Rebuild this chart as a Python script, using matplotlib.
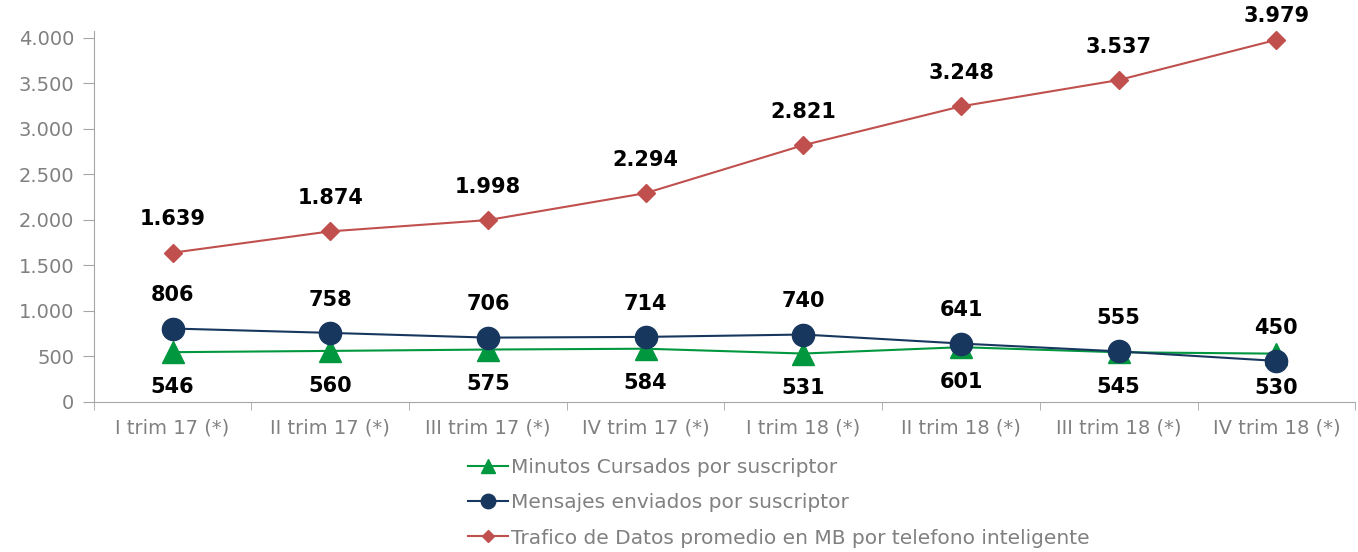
import matplotlib.pyplot as plt
import numpy as np

plt.rcParams['font.family'] = ['DejaVu Sans']

trimestres = ['I trim 17 (*)', 'II trim 17 (*)', 'III trim 17 (*)', 'IV trim 17 (*)',
              'I trim 18 (*)', 'II trim 18 (*)', 'III trim 18 (*)', 'IV trim 18 (*)']
minutos = [546, 560, 575, 584, 531, 601, 545, 530]
mensajes = [806, 758, 706, 714, 740, 641, 555, 450]
datos = [1639, 1874, 1998, 2294, 2821, 3248, 3537, 3979]

c_min = '#00973F'
c_msj = '#17375E'
c_dat = '#C0504D'
gris = '#808080'


def fmt(v):
    return '{:,.0f}'.format(v).replace(',', '.')


fig = plt.figure(figsize=(13.58, 5.52), dpi=100)
ax = fig.add_axes([0.069, 0.272, 0.929, 0.672])

x = np.arange(len(trimestres))
l1, = ax.plot(x, minutos, color=c_min, marker='^', markersize=16, lw=1.5,
              label='Minutos Cursados por suscriptor')
l2, = ax.plot(x, mensajes, color=c_msj, marker='o', markersize=16, lw=1.5,
              label='Mensajes enviados por suscriptor')
l3, = ax.plot(x, datos, color=c_dat, marker='D', markersize=9, lw=1.5,
              label='Trafico de Datos promedio en MB por telefono inteligente')

for xi, v in zip(x, minutos):
    ax.annotate(fmt(v), (xi, v), xytext=(0, -25), textcoords='offset points',
                ha='center', va='center', fontsize=15, fontweight='bold')
for xi, v in zip(x, mensajes):
    ax.annotate(fmt(v), (xi, v), xytext=(0, 24), textcoords='offset points',
                ha='center', va='center', fontsize=15, fontweight='bold')
for i, (xi, v) in enumerate(zip(x, datos)):
    # el ultimo queda pegado al borde superior
    dy = 17 if i == len(datos) - 1 else 24
    ax.annotate(fmt(v), (xi, v), xytext=(0, dy), textcoords='offset points',
                ha='center', va='center', fontsize=15, fontweight='bold')

ax.set_xlim(-0.5, len(trimestres) - 0.5)
ax.set_ylim(0, 4077)
ax.set_yticks(np.arange(0, 4001, 500))
ax.set_yticklabels([fmt(v) for v in np.arange(0, 4001, 500)])
ax.set_xticks(x)
ax.set_xticklabels(trimestres)
ax.set_xticks(np.arange(-0.5, len(trimestres)), minor=True)
ax.tick_params(axis='x', which='major', length=0, pad=12, labelsize=14, labelcolor=gris)
ax.tick_params(axis='x', which='minor', length=6, color='#A6A6A6')
ax.tick_params(axis='y', length=8, color='#A6A6A6', labelsize=14, labelcolor=gris, pad=6)

for s in ['top', 'right']:
    ax.spines[s].set_visible(False)
for s in ['left', 'bottom']:
    ax.spines[s].set_color('#A6A6A6')

fig.legend(handles=[l1, l2, l3], loc='upper left', bbox_to_anchor=(0.337, 0.188),
           frameon=False, fontsize=14.5, labelcolor=gris, handlelength=2.0,
           handletextpad=0.15, labelspacing=0.8, borderpad=0, markerscale=0.65)

fig.savefig('out.png', dpi=100)
